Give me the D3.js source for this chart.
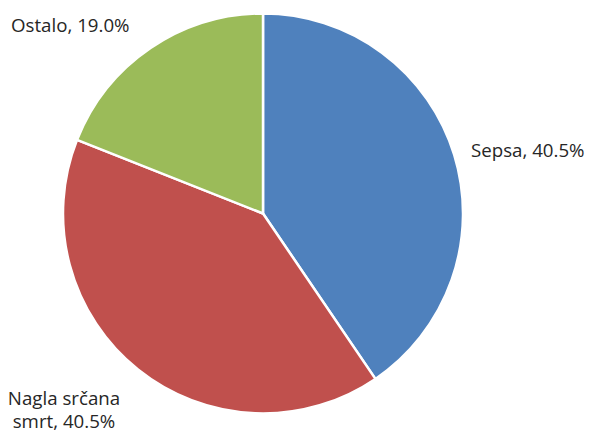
<!doctype html>
<meta charset="utf-8" />
<script src="https://cdn.jsdelivr.net/npm/d3@7/dist/d3.min.js"></script>
<style>
    body {
        margin: 0;
        background: white;
    }

    text {
        font-family: "Open Sans", sans-serif;
        font-size: 18.7px;
        fill: #262626;
    }

    svg {
        display: block
    }
</style>
<svg id="chart"></svg>
<script>
    var categories = ['Sepsa', 'Nagla srčana smrt', 'Ostalo'];
    var values = [40.5, 40.5, 19.0];
    var colors = ['#4F81BD', '#C0504D', '#9BBB59'];

    var width = 593, height = 432;
    var cx = 263, cy = 213.5, radius = 200;

    var svg = d3.select('svg#chart')
        .attr('width', width)
        .attr('height', height);

    var data = categories.map((c, i) => ({ name: c, value: values[i], color: colors[i] }));

    var pie = d3.pie()
        .value(d => d.value)
        .sort(null);

    var arc = d3.arc()
        .innerRadius(0)
        .outerRadius(radius);

    var g = svg.append('g')
        .attr('transform', 'translate(' + cx + ',' + cy + ')');

    g.selectAll('path')
        .data(pie(data))
        .enter()
        .append('path')
        .attr('d', arc)
        .style('fill', d => d.data.color)
        .style('stroke', 'white')
        .style('stroke-width', 2.5)
        .style('stroke-linejoin', 'round');

    // label positions (outside the pie, like the excel data labels)
    var labelPos = [
        { x: 471, y: [157], anchor: 'start', lines: [categories[0] + ', ' + values[0].toFixed(1) + '%'] },
        { x: 64, y: [405, 428], anchor: 'middle', lines: ['Nagla srčana', 'smrt, ' + values[1].toFixed(1) + '%'] },
        { x: 11, y: [32], anchor: 'start', lines: [categories[2] + ', ' + values[2].toFixed(1) + '%'] }
    ];

    labelPos.forEach(function (p) {
        var t = svg.append('text')
            .attr('text-anchor', p.anchor);
        p.lines.forEach(function (l, i) {
            t.append('tspan')
                .attr('x', p.x)
                .attr('y', p.y[i])
                .text(l);
        });
    });
</script>
